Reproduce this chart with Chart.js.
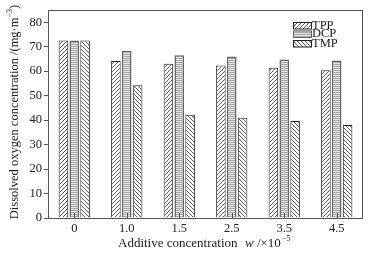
<!DOCTYPE html>
<html>
<head>
<meta charset="utf-8">
<script src="https://cdn.jsdelivr.net/npm/chart.js@4"></script>
<style>
  html, body { margin: 0; padding: 0; background: #fff; }
  #wrap { width: 382px; height: 255px; }
</style>
</head>
<body>
<div id="wrap"><canvas id="grafica" width="382" height="255"></canvas></div>
<script>
const categorias = ['0', '1.0', '1.5', '2.5', '3.5', '4.5'];
const valoresTPP = [72.5, 64.2, 63.0, 62.3, 61.4, 60.4];
const valoresDCP = [72.5, 68.3, 66.5, 66.0, 64.8, 64.4];
const valoresTMP = [72.5, 54.2, 42.2, 41.0, 39.6, 38.0];
const ticksY = [0, 10, 20, 30, 40, 50, 60, 70, 80];

const FUENTE = '"Liberation Serif", "Times New Roman", serif';

function patronDiagonal(invertido) {
    const c = document.createElement('canvas');
    c.width = 4; c.height = 4;
    const g = c.getContext('2d');
    g.fillStyle = '#fff';
    g.fillRect(0, 0, 4, 4);
    g.strokeStyle = '#333';
    g.lineWidth = 0.8;
    g.beginPath();
    if (!invertido) {
        g.moveTo(-1, 5); g.lineTo(5, -1);
        g.moveTo(-1, 1); g.lineTo(1, -1);
        g.moveTo(3, 5); g.lineTo(5, 3);
    } else {
        g.moveTo(-1, -1); g.lineTo(5, 5);
        g.moveTo(3, -1); g.lineTo(5, 1);
        g.moveTo(-1, 3); g.lineTo(1, 5);
    }
    g.stroke();
    return g.createPattern(c, 'repeat');
}

function patronHorizontal() {
    const c = document.createElement('canvas');
    c.width = 4; c.height = 2;
    const g = c.getContext('2d');
    g.fillStyle = '#e4e4e4';
    g.fillRect(0, 0, 4, 2);
    g.fillStyle = '#a8a8a8';
    g.fillRect(0, 0, 4, 1);
    return g.createPattern(c, 'repeat');
}

const marcoYTitulos = {
    id: 'marcoYTitulos',
    afterDraw(chart) {
        const { ctx, chartArea: a } = chart;
        const x = chart.scales.x;
        ctx.save();
        // marco
        ctx.strokeStyle = '#555';
        ctx.lineWidth = 1;
        ctx.strokeRect(a.left + 0.5, a.top + 0.5, a.right - a.left - 1, a.bottom - a.top);
        // ticks interiores del eje x
        ctx.beginPath();
        x.ticks.forEach((t, i) => {
            const px = Math.round(x.getPixelForTick(i)) + 0.5;
            ctx.moveTo(px, a.bottom);
            ctx.lineTo(px, a.bottom - 5);
        });
        ctx.stroke();

        // titulo eje x
        ctx.fillStyle = '#222';
        ctx.textBaseline = 'alphabetic';
        ctx.textAlign = 'left';
        const yb = 247;
        ctx.font = '13px ' + FUENTE;
        ctx.fillText('Additive concentration', 118, yb);
        ctx.font = 'italic 13px ' + FUENTE;
        ctx.fillText('w', 245, yb);
        let xx = 245 + ctx.measureText('w').width;
        ctx.font = '13px ' + FUENTE;
        ctx.fillText(' /×10', xx, yb);
        xx += ctx.measureText(' /×10').width;
        ctx.font = '8px ' + FUENTE;
        ctx.fillText('−5', xx + 1, yb - 6);

        // titulo eje y
        ctx.translate(15, 112);
        ctx.rotate(-Math.PI / 2);
        ctx.textBaseline = 'middle';
        ctx.font = '12.5px ' + FUENTE;
        const base = 'Dissolved oxygen concentration /(mg·m';
        const wBase = ctx.measureText(base).width;
        ctx.font = '8px ' + FUENTE;
        const wSup = ctx.measureText('−3').width;
        ctx.font = '12.5px ' + FUENTE;
        const wCierre = ctx.measureText(')').width;
        const total = wBase + wSup + wCierre;
        let px = -total / 2;
        ctx.fillText(base, px, 0);
        px += wBase;
        ctx.font = '8px ' + FUENTE;
        ctx.fillText('−3', px, -5);
        px += wSup;
        ctx.font = '12.5px ' + FUENTE;
        ctx.fillText(')', px, 0);
        ctx.restore();
    }
};

const leyenda = {
    id: 'leyenda',
    afterDraw(chart) {
        const { ctx } = chart;
        ctx.save();
        const filas = [22, 30.5, 40];
        chart.data.datasets.forEach((ds, i) => {
            const y = filas[i];
            ctx.fillStyle = ds.backgroundColor;
            ctx.fillRect(293, y, 19, 7);
            ctx.strokeStyle = ds.borderColor;
            ctx.lineWidth = 1;
            ctx.strokeRect(293.5, y + 0.5, 18, 6.5);
            ctx.fillStyle = '#222';
            ctx.font = '12.5px ' + FUENTE;
            ctx.textBaseline = 'middle';
            ctx.textAlign = 'left';
            ctx.fillText(ds.label, 312, y + 3.5);
        });
        ctx.restore();
    }
};

const ctx = document.getElementById('grafica');
new Chart(ctx, {
    type: 'bar',
    data: {
        labels: categorias,
        datasets: [
            { label: 'TPP', data: valoresTPP, backgroundColor: patronDiagonal(false), borderColor: '#222', borderWidth: 1 },
            { label: 'DCP', data: valoresDCP, backgroundColor: patronHorizontal(), borderColor: '#666', borderWidth: 1.5 },
            { label: 'TMP', data: valoresTMP, backgroundColor: patronDiagonal(true), borderColor: '#222', borderWidth: 1 }
        ]
    },
    options: {
        responsive: false,
        animation: false,
        devicePixelRatio: 1,
        layout: { padding: { top: 10, right: 19, left: 0, bottom: 0 } },
        datasets: { bar: { categoryPercentage: 0.62, barPercentage: 0.88 } },
        plugins: { legend: { display: false }, tooltip: { enabled: false } },
        scales: {
            x: {
                afterFit: s => { s.height = 37; },
                grid: { display: false, drawTicks: false },
                border: { display: false },
                ticks: { color: '#222', font: { family: FUENTE, size: 12.5 }, padding: 3, maxRotation: 0 }
            },
            y: {
                min: 0,
                max: 85,
                afterFit: s => { s.width = 48; },
                afterBuildTicks: s => { s.ticks = ticksY.map(v => ({ value: v })); },
                grid: { drawOnChartArea: false, tickLength: 4, color: '#555' },
                border: { display: false },
                ticks: { color: '#222', font: { family: FUENTE, size: 12.5 }, padding: 2 }
            }
        }
    },
    plugins: [marcoYTitulos, leyenda]
});
</script>
</body>
</html>
